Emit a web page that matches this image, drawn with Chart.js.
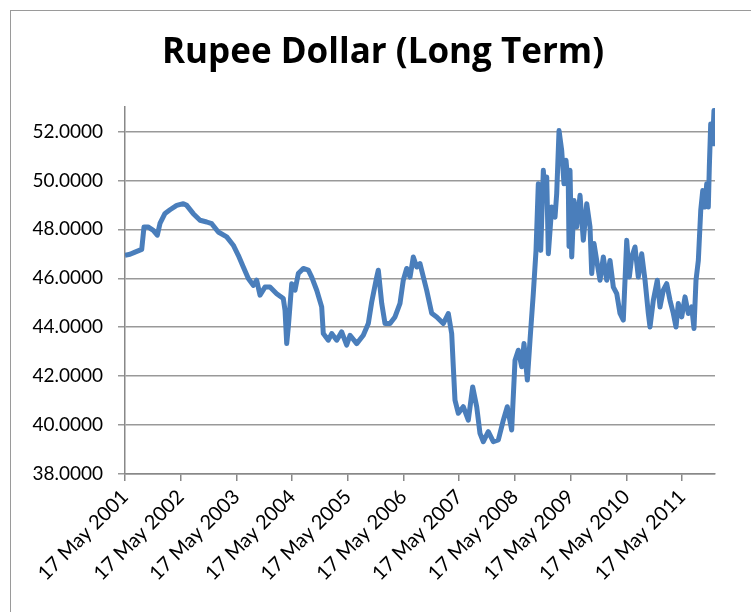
<!DOCTYPE html>
<html>
<head>
<meta charset="utf-8">
<script src="https://cdn.jsdelivr.net/npm/chart.js@4"></script>
<style>
  html, body { margin: 0; padding: 0; background: #fff; overflow: hidden; }
  #wrap { position: relative; width: 751px; height: 612px; }
  #frame { position: absolute; left: 10px; top: 10px; width: 800px; height: 700px; border: 1px solid #9a9a9a; }
  #chart { position: absolute; left: 0; top: 0; }
</style>
</head>
<body>
<div id="wrap">
  <div id="frame"></div>
  <canvas id="chart" width="751" height="612"></canvas>
</div>
<script>
// decimal year of each reading (17 May 2001 = 2001.373)
const dates = [
    2001.373, 2001.463, 2001.553, 2001.673, 2001.714, 2001.786, 2001.881, 2001.953, 2002.001, 2002.091,
    2002.181, 2002.301, 2002.420, 2002.481, 2002.599, 2002.720, 2002.840, 2002.930, 2003.048, 2003.199,
    2003.317, 2003.407, 2003.497, 2003.587, 2003.676, 2003.737, 2003.797, 2003.886, 2003.976, 2004.096,
    2004.215, 2004.246, 2004.276, 2004.305, 2004.366, 2004.425, 2004.484, 2004.574, 2004.664, 2004.725,
    2004.815, 2004.904, 2004.933, 2005.023, 2005.084, 2005.174, 2005.263, 2005.353, 2005.413, 2005.533,
    2005.651, 2005.741, 2005.802, 2005.892, 2005.921, 2005.982, 2006.041, 2006.131, 2006.220, 2006.310,
    2006.369, 2006.430, 2006.490, 2006.549, 2006.610, 2006.669, 2006.789, 2006.879, 2006.969, 2007.087,
    2007.177, 2007.238, 2007.267, 2007.297, 2007.357, 2007.446, 2007.536, 2007.615, 2007.687, 2007.746,
    2007.806, 2007.895, 2007.985, 2008.075, 2008.165, 2008.236, 2008.315, 2008.375, 2008.434, 2008.495,
    2008.536, 2008.596, 2008.644, 2008.703, 2008.752, 2008.793, 2008.836, 2008.883, 2008.919, 2008.944,
    2008.973, 2009.034, 2009.093, 2009.123, 2009.165, 2009.213, 2009.254, 2009.290, 2009.332, 2009.344,
    2009.362, 2009.393, 2009.434, 2009.482, 2009.542, 2009.601, 2009.662, 2009.721, 2009.752, 2009.793,
    2009.841, 2009.901, 2009.960, 2010.021, 2010.080, 2010.140, 2010.201, 2010.260, 2010.319, 2010.380,
    2010.427, 2010.470, 2010.529, 2010.588, 2010.649, 2010.709, 2010.768, 2010.798, 2010.858, 2010.929,
    2010.978, 2011.037, 2011.098, 2011.157, 2011.217, 2011.265, 2011.306, 2011.368, 2011.427, 2011.486,
    2011.547, 2011.588, 2011.624, 2011.666, 2011.709, 2011.745, 2011.786, 2011.816, 2011.845, 2011.863,
    2011.888, 2011.924, 2011.947, 2011.965
];
// rupees per dollar
const rates = [
    46.94, 46.98, 47.07, 47.18, 48.10, 48.10, 47.96, 47.76, 48.24, 48.65,
    48.80, 48.98, 49.05, 48.98, 48.64, 48.37, 48.30, 48.23, 47.89, 47.69,
    47.35, 46.94, 46.46, 45.99, 45.71, 45.92, 45.31, 45.64, 45.64, 45.37,
    45.17, 44.69, 43.33, 44.01, 45.78, 45.51, 46.19, 46.40, 46.33, 46.05,
    45.51, 44.83, 43.74, 43.47, 43.74, 43.47, 43.81, 43.27, 43.67, 43.33,
    43.67, 44.15, 45.03, 46.05, 46.33, 44.97, 44.15, 44.15, 44.42, 44.97,
    45.92, 46.40, 46.05, 46.87, 46.46, 46.60, 45.51, 44.57, 44.42, 44.15,
    44.56, 43.74, 42.38, 41.02, 40.48, 40.75, 40.20, 41.56, 40.75, 39.66,
    39.32, 39.73, 39.32, 39.39, 40.20, 40.75, 39.80, 42.65, 43.06, 42.38,
    43.33, 41.84, 43.47, 45.37, 47.14, 49.86, 47.14, 50.41, 49.18, 50.14,
    47.00, 48.91, 48.50, 49.46, 52.04, 51.22, 49.86, 50.82, 49.73, 47.30,
    50.41, 46.87, 49.18, 48.10, 49.39, 47.55, 49.05, 48.10, 46.19, 47.42,
    46.73, 45.92, 46.87, 45.92, 46.73, 45.64, 45.37, 44.56, 44.29, 47.55,
    46.05, 46.87, 47.28, 46.05, 47.00, 45.92, 44.56, 44.01, 45.10, 45.92,
    44.83, 45.51, 45.78, 45.10, 44.56, 44.01, 44.97, 44.42, 45.24, 44.56,
    44.83, 43.95, 45.92, 46.73, 48.78, 49.59, 48.91, 49.86, 48.91, 50.54,
    52.31, 51.63, 52.86, 51.40
];
const tickYears = [2001, 2002, 2003, 2004, 2005, 2006, 2007, 2008, 2009, 2010, 2011];
const tickLabels = tickYears.map(y => '17 May ' + y);
const yTicks = [38, 40, 42, 44, 46, 48, 50, 52];

new Chart(document.getElementById('chart'), {
    type: 'line',
    data: {
        datasets: [{
            data: dates.map((d, i) => ({ x: d, y: rates[i] })),
            borderColor: '#4a7ebb',
            borderWidth: 5,
            borderJoinStyle: 'round',
            pointRadius: 0,
            tension: 0,
            fill: false
        }]
    },
    options: {
        responsive: false,
        animation: false,
        layout: { padding: { left: 15, right: 0, top: 0, bottom: 0 } },
        plugins: {
            legend: { display: false },
            tooltip: { enabled: false },
            title: {
                display: true,
                text: 'Rupee Dollar (Long Term)',
                color: '#000',
                font: { family: 'Open Sans', size: 35, weight: 'bold' },
                padding: { top: 32, bottom: 33 }
            }
        },
        scales: {
            x: {
                type: 'linear',
                min: dates[0],
                max: dates[dates.length - 1],
                afterBuildTicks: s => { s.ticks = tickYears.map(y => ({ value: y + 0.373 })); },
                afterFit: s => { s.height = 138; },
                ticks: {
                    callback: (v, i) => tickLabels[i],
                    minRotation: 45,
                    maxRotation: 45,
                    autoSkip: false,
                    color: '#000',
                    font: { family: 'Lato', size: 20 },
                    padding: 4
                },
                grid: { drawOnChartArea: false, color: '#888', lineWidth: 1.5, tickLength: 7 },
                border: { color: '#888', width: 1.5 }
            },
            y: {
                min: 38,
                max: 53,
                afterBuildTicks: s => { s.ticks = yTicks.map(v => ({ value: v })); },
                afterFit: s => { s.width = 110; },
                ticks: {
                    callback: v => v.toFixed(4),
                    color: '#000',
                    font: { family: 'Lato', size: 19 },
                    padding: 15
                },
                grid: { color: '#999', lineWidth: 1.5, tickLength: 7 },
                border: { color: '#888', width: 1.5 }
            },
            // empty right-hand margin beside the plot
            yRight: {
                position: 'right',
                afterFit: s => { s.width = 36; },
                ticks: { display: false },
                grid: { display: false },
                border: { display: false }
            }
        }
    }
});
</script>
</body>
</html>
